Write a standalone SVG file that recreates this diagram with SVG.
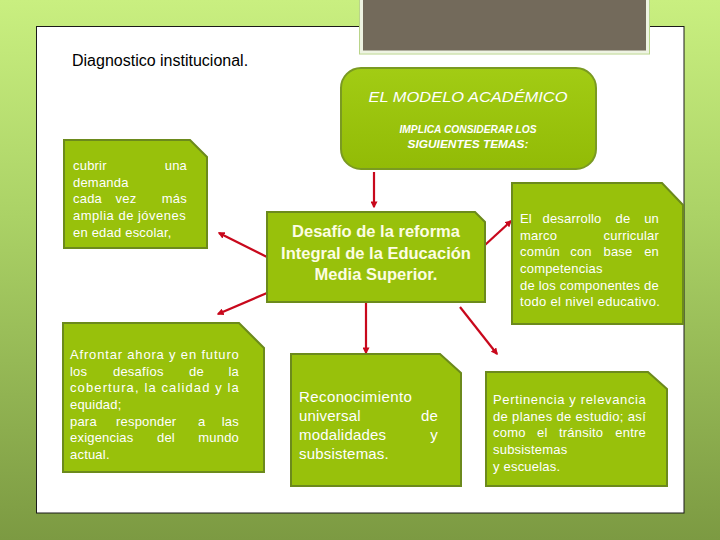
<svg xmlns="http://www.w3.org/2000/svg" width="720" height="540" viewBox="0 0 720 540">
<defs>
<linearGradient id="bg" x1="0" y1="0" x2="0" y2="1">
<stop offset="0" stop-color="#c9ef80"/>
<stop offset="0.4" stop-color="#abd266"/>
<stop offset="1" stop-color="#7c9a42"/>
</linearGradient>
<linearGradient id="mg" x1="0" y1="0" x2="0" y2="1">
<stop offset="0" stop-color="#a2cc14"/>
<stop offset="1" stop-color="#92bb06"/>
</linearGradient>
<marker id="ah" viewBox="0 0 10 10" refX="8" refY="5" markerWidth="7" markerHeight="7" markerUnits="userSpaceOnUse" orient="auto">
<path d="M0,0 L10,5 L0,10 z" fill="#c8081c"/>
</marker>
<style>
.box{fill:#98c10b;stroke:#6c8a1c;stroke-width:2}
.t{font-family:"Liberation Sans",Arial,sans-serif;font-size:13px;fill:#ffffff;letter-spacing:0.2px}
.e{text-anchor:end}
.mid{text-anchor:middle}
.big{font-size:15px}
.h{font-family:"Liberation Sans",Arial,sans-serif;font-weight:bold;font-size:16.5px;fill:#fdfde3;text-anchor:middle}
.m{font-family:"Liberation Sans",Arial,sans-serif;font-style:italic;fill:#ffffff;text-anchor:middle}
.c{stroke:#c8081c;stroke-width:2.2;fill:none;marker-end:url(#ah)}
</style>
</defs>
<rect x="0" y="0" width="720" height="540" fill="url(#bg)"/>
<rect x="36.5" y="26.5" width="647.5" height="486.5" fill="#ffffff" stroke="#1a1a1a" stroke-width="1"/>
<rect x="361.5" y="-3" width="286" height="55" fill="#736a5b" stroke="#eef3e2" stroke-width="3"/>
<rect x="359.5" y="-5" width="290" height="59" fill="none" stroke="#b9d48a" stroke-width="1"/>
<text x="72" y="66" font-family="'Liberation Sans',Arial,sans-serif" font-size="16" fill="#000">Diagnostico institucional.</text>

<g id="connectors">
<line class="c" x1="374" y1="172" x2="374" y2="207"/>
<line class="c" x1="267" y1="257" x2="219" y2="233"/>
<line class="c" x1="267" y1="293" x2="218" y2="314"/>
<line class="c" x1="485" y1="245" x2="511" y2="221"/>
<line class="c" x1="366" y1="303" x2="366" y2="353"/>
<line class="c" x1="460" y1="307" x2="497" y2="354"/>
</g>

<g id="modelo">
<rect x="341" y="68" width="255" height="101" rx="20" ry="20" fill="url(#mg)" stroke="#7a9a22" stroke-width="2"/>
<text class="m" x="468" y="102" font-size="15.5" textLength="199" lengthAdjust="spacingAndGlyphs">EL MODELO ACADÉMICO</text>
<text class="m" x="468" y="133" font-size="11" font-weight="bold" textLength="137" lengthAdjust="spacingAndGlyphs">IMPLICA CONSIDERAR LOS</text>
<text class="m" x="468" y="148" font-size="11" font-weight="bold" textLength="121" lengthAdjust="spacingAndGlyphs">SIGUIENTES TEMAS:</text>
</g>

<g id="cubrir">
<polygon class="box" points="64,140 190,140 207,157 207,248 64,248"/>
<text class="t" x="73" y="170">cubrir</text>
<text class="t e" x="187" y="170">una</text>
<text class="t" x="73" y="186.7">demanda</text>
<text class="t" x="73" y="203.3">cada</text>
<text class="t mid" x="126" y="203.3">vez</text>
<text class="t e" x="187" y="203.3">más</text>
<text class="t" x="73" y="220" textLength="113" lengthAdjust="spacing">amplia de jóvenes</text>
<text class="t" x="73" y="236.7">en edad escolar,</text>
</g>

<g id="desafio">
<polygon class="box" points="267,212 475,212 485,222 485,302 267,302"/>
<text class="h" x="376" y="237">Desafío de la reforma</text>
<text class="h" x="376" y="258.5">Integral de la Educación</text>
<text class="h" x="376" y="280">Media Superior.</text>
</g>

<g id="desarrollo">
<polygon class="box" points="512,183 662,183 683,205 683,324 512,324"/>
<text class="t" x="520" y="223">El</text>
<text class="t mid" x="572" y="223">desarrollo</text>
<text class="t mid" x="623" y="223">de</text>
<text class="t e" x="659" y="223">un</text>
<text class="t" x="520" y="239.7">marco</text>
<text class="t e" x="659" y="239.7">curricular</text>
<text class="t" x="520" y="256.3">común</text>
<text class="t mid" x="581" y="256.3">con</text>
<text class="t mid" x="618" y="256.3">base</text>
<text class="t e" x="659" y="256.3">en</text>
<text class="t" x="520" y="273">competencias</text>
<text class="t" x="520" y="289.7" textLength="139" lengthAdjust="spacingAndGlyphs">de los componentes de</text>
<text class="t" x="520" y="306.3" textLength="140" lengthAdjust="spacing">todo el nivel educativo.</text>
</g>

<g id="afrontar">
<polygon class="box" points="63,323 239,323 264,348 264,472 63,472"/>
<text class="t" x="70" y="359" textLength="169" lengthAdjust="spacing">Afrontar ahora y en futuro</text>
<text class="t" x="70" y="375.7">los</text>
<text class="t" x="113" y="375.7">desafíos</text>
<text class="t" x="189" y="375.7">de</text>
<text class="t e" x="239" y="375.7">la</text>
<text class="t" x="70" y="392.3" textLength="169" lengthAdjust="spacing">cobertura, la calidad y la</text>
<text class="t" x="70" y="409">equidad;</text>
<text class="t" x="70" y="425.7">para</text>
<text class="t" x="116" y="425.7">responder</text>
<text class="t" x="198" y="425.7">a</text>
<text class="t e" x="239" y="425.7">las</text>
<text class="t" x="70" y="442.3">exigencias</text>
<text class="t" x="157" y="442.3">del</text>
<text class="t e" x="239" y="442.3">mundo</text>
<text class="t" x="70" y="459">actual.</text>
</g>

<g id="reconocimiento">
<polygon class="box" points="291,354 440,354 461,373 461,486 291,486"/>
<text class="t big" x="299" y="402" textLength="113" lengthAdjust="spacing">Reconocimiento</text>
<text class="t big" x="299" y="421">universal</text>
<text class="t big e" x="438" y="421">de</text>
<text class="t big" x="299" y="440">modalidades</text>
<text class="t big e" x="438" y="440">y</text>
<text class="t big" x="299" y="459">subsistemas.</text>
</g>

<g id="pertinencia">
<polygon class="box" points="486,372 648,372 667,389 667,486 486,486"/>
<text class="t" x="493" y="404" textLength="153" lengthAdjust="spacing">Pertinencia y relevancia</text>
<text class="t" x="493" y="420.7" textLength="153" lengthAdjust="spacing">de planes de estudio; así</text>
<text class="t" x="493" y="437.3">como</text>
<text class="t" x="537" y="437.3">el</text>
<text class="t" x="559" y="437.3">tránsito</text>
<text class="t e" x="646" y="437.3">entre</text>
<text class="t" x="493" y="454">subsistemas</text>
<text class="t" x="493" y="470.7">y escuelas.</text>
</g>
</svg>
